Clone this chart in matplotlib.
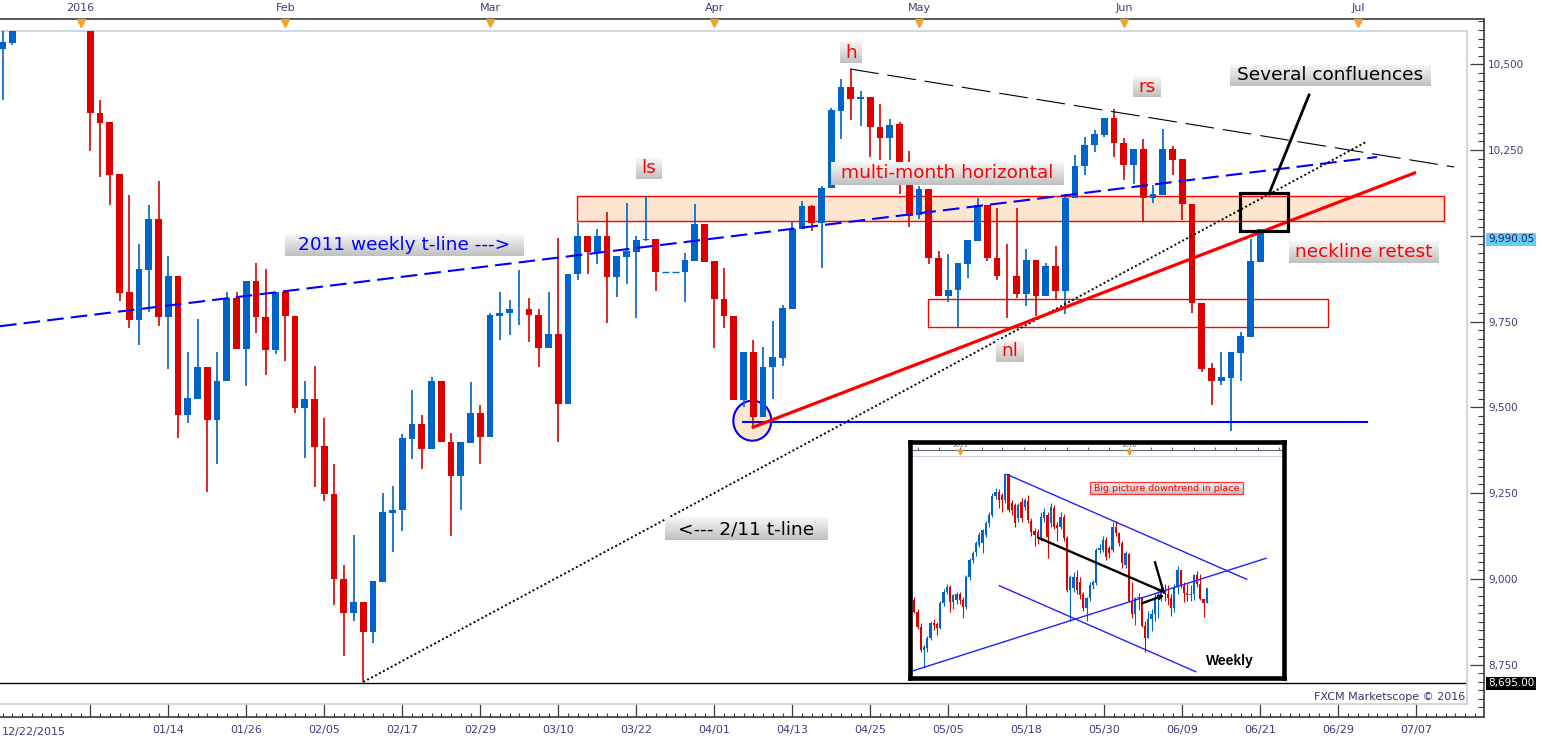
import numpy as np
import matplotlib
matplotlib.use("Agg")
import matplotlib.pyplot as plt
from matplotlib.patches import Rectangle, Ellipse
from matplotlib.colors import LinearSegmentedColormap

plt.rcParams['font.family'] = ['DejaVu Sans']

# ---------------- daily candles (bar index, 0 = 01/04/2016) ----------------
day_k = [-9, -8] + list(range(0, 121))
d_open = [10544, 10561,
    10740, 10358, 10331, 10179, 9835, 9754, 9900, 10048, 9763, 9884,
    9478, 9525, 9618, 9463, 9576, 9819, 9669, 9867, 9764, 9666,
    9835, 9766, 9499, 9524, 9387, 9247, 9000, 8899, 8931, 8844,
    8992, 9193, 9200, 9408, 9451, 9378, 9577, 9400, 9299, 9397,
    9484, 9412, 9766, 9774, 9787, 9788, 9770, 9674, 9715, 9510,
    9889, 9998, 9952, 9999, 9880, 9938, 9953, 9988, 9990, 9895,
    9895, 9895, 9927, 10035, 9926, 9817, 9766, 9521, 9662, 9471,
    9617, 9645, 9788, 10019, 10086, 10038, 10139, 10364, 10433, 10400,
    10405, 10318, 10285, 10325, 10210, 10061, 10136, 9936, 9825, 9842,
    9917, 9985, 10089, 9936, 9884, 9884, 9829, 9930, 9824, 9911,
    9838, 10109, 10204, 10265, 10294, 10344, 10272, 10207, 10254, 10109,
    10118, 10254, 10225, 10093, 9803, 9615, 9576, 9584, 9657, 9706,
    9925]
d_high = [10620, 10680,
    10750, 10397, 10331, 10179, 10119, 9975, 10090, 10160, 9941, 9884,
    9660, 9756, 9618, 9662, 9835, 9835, 9867, 9922, 9903, 9835,
    9842, 9766, 9577, 9621, 9468, 9336, 9040, 9128, 8931, 8993,
    9250, 9270, 9421, 9551, 9477, 9587, 9577, 9424, 9398, 9574,
    9507, 9775, 9835, 9813, 9899, 9819, 9788, 9837, 9993, 9890,
    10038, 9998, 10020, 10068, 9941, 10095, 10000, 10115, 9990, 9895,
    9895, 9951, 10093, 10035, 9926, 9905, 9766, 9662, 9697, 9677,
    9753, 9798, 10041, 10102, 10090, 10146, 10372, 10457, 10486, 10423,
    10405, 10383, 10341, 10331, 10247, 10146, 10136, 9957, 9948, 9920,
    9988, 10109, 10089, 10081, 9975, 10081, 9961, 9930, 9920, 9969,
    10121, 10235, 10288, 10309, 10344, 10370, 10284, 10254, 10281, 10148,
    10312, 10263, 10225, 10093, 9803, 9630, 9662, 9661, 9720, 9991,
    10020]
d_low = [10395, 10556,
    10248, 10170, 10090, 9810, 9731, 9683, 9778, 9736, 9613, 9411,
    9455, 9525, 9252, 9335, 9576, 9669, 9563, 9716, 9593, 9655,
    9636, 9484, 9352, 9267, 9226, 8924, 8775, 8877, 8698, 8813,
    8992, 9078, 9139, 9350, 9319, 9378, 9398, 9124, 9202, 9397,
    9335, 9412, 9695, 9710, 9741, 9689, 9618, 9674, 9399, 9510,
    9872, 9890, 9917, 9747, 9821, 9859, 9759, 9985, 9838, 9895,
    9895, 9806, 9927, 9924, 9674, 9731, 9521, 9502, 9445, 9471,
    9524, 9620, 9788, 10019, 10014, 9905, 10139, 10281, 10337, 10321,
    10230, 10220, 10220, 10121, 10025, 10049, 9917, 9825, 9806, 9735,
    9877, 9985, 9927, 9872, 9761, 9819, 9794, 9766, 9824, 9813,
    9772, 10109, 10177, 10244, 10288, 10230, 10164, 10152, 10040, 10096,
    10118, 10177, 10047, 9775, 9603, 9508, 9566, 9432, 9578, 9706,
    9925]
d_close = [10565, 10640,
    10358, 10328, 10176, 9833, 9754, 9903, 10048, 9763, 9884, 9478,
    9527, 9618, 9463, 9577, 9819, 9669, 9867, 9763, 9666, 9835,
    9766, 9499, 9524, 9384, 9247, 9000, 8899, 8931, 8844, 8993,
    9196, 9201, 9410, 9451, 9378, 9577, 9398, 9299, 9398, 9484,
    9412, 9768, 9775, 9788, 9788, 9768, 9674, 9715, 9510, 9890,
    9998, 9952, 9999, 9880, 9941, 9956, 9988, 9990, 9895, 9895,
    9895, 9929, 10035, 9924, 9815, 9766, 9521, 9662, 9471, 9618,
    9647, 9790, 10019, 10086, 10038, 10139, 10368, 10433, 10399, 10405,
    10317, 10285, 10322, 10210, 10059, 10136, 9936, 9825, 9842, 9920,
    9988, 10089, 9936, 9884, 9882, 9829, 9930, 9824, 9911, 9838,
    10109, 10204, 10265, 10296, 10344, 10272, 10207, 10254, 10109, 10123,
    10254, 10222, 10093, 9803, 9613, 9576, 9587, 9661, 9709, 9926,
    10020]

# x-axis labels (every 8 bars) and month markers
date_ticks = list(range(8, 137, 8))
date_labels = ['01/14', '01/26', '02/05', '02/17', '02/29', '03/10', '03/22', '04/01',
               '04/13', '04/25', '05/05', '05/18', '05/30', '06/09', '06/21', '06/29', '07/07']
month_k = [-1, 20, 41, 64, 85, 106, 130]
month_labels = ['2016', 'Feb', 'Mar', 'Apr', 'May', 'Jun', 'Jul']
price_ticks = [8750, 9000, 9250, 9500, 9750, 10250, 10500]
last_price = 9990.05
low_price = 8695.00

# ---------------- weekly candles for the inset (index 0 = late Sep 2014) ----------------
w_open = [9777, 9535, 9223, 8738, 8773, 8980, 9292, 9278, 9202, 9708,
          9951, 10055, 9743, 9777, 9895, 9777, 9639, 10262, 10609, 10782,
          10921, 10955, 11129, 11371, 11545, 11940, 12030, 11960, 11856, 12390,
          11787, 11752, 11475, 11822, 11718, 11836, 11420, 11212, 11198, 11094,
          11475, 11545, 11371, 11683, 11337, 11302, 11510, 11059, 9985, 10020,
          10262, 10159, 9895, 9604, 9812, 10089, 10124, 10817, 10817, 11025,
          10852, 10817, 11302, 11163, 10955, 10505,
          10740, 9754, 9478, 9819, 9835, 9247, 8992, 9378, 9484, 9788,
          9889, 9938, 9895, 9817, 9617, 10038, 10405, 10061, 9917, 9884,
          9911, 10294, 10109, 9803, 9706]
w_high = [9850, 9600, 9300, 8850, 9020, 9350, 9380, 9320, 9760, 10000,
          10100, 10090, 9900, 9950, 9950, 9850, 10300, 10650, 10800, 11000,
          11200, 11260, 11420, 11600, 12000, 12100, 12080, 12000, 12390, 12390,
          11850, 11800, 11800, 11900, 11900, 11950, 11480, 11280, 11250, 11600,
          11700, 11600, 11800, 11760, 11400, 11600, 11560, 11100, 10300, 10350,
          10400, 10250, 9950, 9850, 10150, 10200, 10850, 10950, 11100, 11080,
          10900, 11400, 11430, 11200, 11000, 10800,
          10750, 10160, 9835, 9922, 9842, 9336, 9551, 9587, 9899, 9993,
          10068, 10115, 10093, 9905, 10102, 10486, 10405, 10146, 10109, 10081,
          10309, 10370, 10312, 9803, 10020]
w_low = [9500, 9180, 8700, 8357, 8700, 8950, 9150, 9050, 9180, 9650,
         9900, 9535, 9600, 9700, 9700, 9396, 9600, 10200, 10550, 10700,
         10880, 10748, 11080, 11300, 11500, 11880, 11700, 11600, 11800, 11600,
         11550, 11300, 11400, 11400, 11650, 11380, 11100, 10900, 10950, 11000,
         11400, 10644, 11300, 11250, 11000, 11250, 11000, 9950, 9338, 9950,
         9900, 9800, 9550, 9340, 9750, 10000, 10080, 10750, 10780, 10600,
         10650, 10780, 11100, 10900, 10450, 10450,
         9731, 9411, 9252, 9563, 9226, 8698, 8992, 9124, 9335, 9399,
         9747, 9759, 9674, 9445, 9524, 9905, 10025, 9735, 9761, 9766,
         9772, 10040, 9775, 9432, 9706]
w_close = [9535, 9223, 8738, 8807, 8980, 9292, 9258, 9202, 9708, 9951,
           10055, 9743, 9881, 9895, 9777, 9639, 10262, 10609, 10748, 10955,
           11129, 11233, 11371, 11545, 11940, 12030, 11856, 11856, 12390, 11648,
           11648, 11371, 11752, 11475, 11856, 11441, 11198, 11129, 11059, 11510,
           11614, 11094, 11718, 11302, 11267, 11510, 11059, 9985, 10262, 10262,
           9985, 9881, 9604, 9812, 10089, 10159, 10817, 10852, 11025, 10678,
           10748, 11302, 11163, 10955, 10540, 10748,
           9754, 9478, 9819, 9835, 9247, 8993, 9378, 9484, 9788, 9890,
           9941, 9895, 9815, 9618, 10038, 10405, 10059, 9920, 9882, 9911,
           10296, 10109, 9803, 9709, 10020]

BLUE = '#0064C8'
RED = '#DC0000'

W, H = 1542, 743
fig = plt.figure(figsize=(W / 100, H / 100), dpi=100)
fig.patch.set_facecolor('white')

# pixel geometry of the reference
X0PX, BARPX = 90.3, 9.75
P0, P0PX, PXPT = 10500.0, 64.3, 0.343


def kx(px):
    return (px - X0PX) / BARPX


def pp(py):
    return P0 - (py - P0PX) / PXPT


def rect(x0, y0, x1, y1):
    return [x0 / W, (H - y1) / H, (x1 - x0) / W, (y1 - y0) / H]


AXC = '#3c3c3c'
LBL = '#3d3d85'

# ---------- frame axes (ticks, labels) ----------
axf = fig.add_axes(rect(0, 19, 1484, 717))
axf.set_xlim(kx(0), kx(1484))
axf.set_ylim(pp(717), pp(19))
axf.set_facecolor('white')
axf.spines['left'].set_visible(False)
for s in ['top', 'right', 'bottom']:
    axf.spines[s].set_color(AXC)
    axf.spines[s].set_linewidth(1.2)
axf.set_xticks([0] + date_ticks)
axf.set_xticklabels([''] + date_labels)
axf.set_xticks(np.arange(-9, 143), minor=True)
axf.tick_params(axis='x', which='major', direction='in', length=9.4, width=0.9,
                color=AXC, labelsize=8, labelcolor=LBL, pad=6)
axf.tick_params(axis='x', which='minor', direction='in', length=2.8, width=0.8, color=AXC)
axf.yaxis.tick_right()
axf.set_yticks(price_ticks + [10000])
axf.set_yticklabels([f'{v:,}' for v in price_ticks] + [''])
axf.set_yticks([v for v in np.arange(8625, 10626, 25) if v % 250 != 0], minor=True)
axf.tick_params(axis='y', which='major', direction='in', length=10, width=0.9,
                color=AXC, labelsize=7.5, labelcolor=LBL, pad=3)
axf.tick_params(axis='y', which='minor', direction='in', length=4, width=0.8, color=AXC)
axf.text(kx(2), pp(732), '12/22/2015', fontsize=8, color=LBL, ha='left', va='center', clip_on=False)
for k, m in zip(month_k, month_labels):
    axf.text(k, pp(8), m, fontsize=8, color=LBL, ha='center', va='center', clip_on=False)
    axf.plot([k], [pp(23)], marker='v', ms=6, color='#F2A22E', clip_on=False, zorder=5)
axf.text(kx(1488), last_price, f'{last_price:,.2f}', fontsize=7.5, color='#22225a', ha='left',
         va='center', clip_on=False,
         bbox=dict(boxstyle='square,pad=0.15', fc='#66CCF5', ec='none'))
axf.text(kx(1488), low_price, f'{low_price:,.2f}', fontsize=7.5, color='white', ha='left',
         va='center', clip_on=False,
         bbox=dict(boxstyle='square,pad=0.15', fc='black', ec='none'))

# ---------- data axes ----------
ax = fig.add_axes(rect(0, 31, 1467, 704))
ax.patch.set_alpha(0)
ax.set_xticks([])
ax.set_yticks([])
ax.spines['left'].set_visible(False)
for s in ['top', 'right', 'bottom']:
    ax.spines[s].set_color('#c3d1dc')
    ax.spines[s].set_linewidth(1.2)
XL = (kx(0), kx(1467))
YL = (pp(704), pp(31))


def draw_candles(axis, xs, o, h, l, c, width, wlw, z=3):
    xs = np.asarray(xs, float)
    o, h, l, c = (np.asarray(v, float) for v in (o, h, l, c))
    cols = np.where(c >= o, BLUE, RED)
    axis.vlines(xs, l, h, colors=cols, lw=wlw, zorder=z)
    bh = np.abs(c - o)
    nz = bh > 0
    axis.bar(xs[nz], bh[nz], width=width, bottom=np.minimum(o, c)[nz], color=cols[nz],
             linewidth=0, zorder=z + 0.1)
    fl = ~nz
    axis.hlines(o[fl], xs[fl] - width / 2, xs[fl] + width / 2, colors=cols[fl], lw=1.0, zorder=z + 0.1)


# zones
ax.add_patch(Rectangle((kx(577.3), pp(221)), kx(1444) - kx(577.3), pp(196) - pp(221),
                       fc='#FDE6D0', ec='#FF0000', lw=1.0, zorder=1))
ax.add_patch(Rectangle((kx(928.3), pp(326.5)), kx(1327.7) - kx(928.3), pp(298.5) - pp(326.5),
                       fc='none', ec='#FF0000', lw=1.0, zorder=1))
ax.add_patch(Ellipse((kx(752.3), pp(420.7)), 38 / BARPX, 40 / PXPT,
                     fc='#FDE6D0', ec='#0000FF', lw=1.5, zorder=1.5))

draw_candles(ax, day_k, d_open, d_high, d_low, d_close, 0.69, 1.2)

# low line
ax.axhline(low_price, color='black', lw=1.0, zorder=2)
# 2011 weekly t-line
ax.plot([kx(0), kx(1377)], [pp(326.2), pp(157)], color='#0000FF', lw=1.5,
        ls=(0, (8, 3.4)), zorder=5)
# 2/11 t-line
ax.plot([kx(363.3), kx(1366)], [pp(682), pp(142)], color='black', lw=1.4,
        ls=(0, (1.0, 1.3)), zorder=5)
# neckline
ax.plot([kx(751.7), kx(1416)], [pp(427.7), pp(172.4)], color='#FF0000', lw=2.3,
        solid_capstyle='butt', zorder=6)
# h down line
ax.plot([kx(850), kx(1454)], [pp(69), pp(167)], color='black', lw=0.8,
        ls=(0, (26, 8)), zorder=5)
# horizontal low support
ax.plot([kx(742.7), kx(1366.7)], [pp(421.5), pp(421.5)], color='#0000FF', lw=1.5, zorder=5)
# confluence box + pointer
ax.add_patch(Rectangle((kx(1240), pp(231)), kx(1288) - kx(1240), pp(193) - pp(231),
                       fc='none', ec='black', lw=2.3, zorder=7))
ax.plot([kx(1269), kx(1309)], [pp(194), pp(95)], color='black', lw=2.0, zorder=7)

grad = LinearSegmentedColormap.from_list('g', ['#f7f7f7', '#c0c0c0'])


def glabel(axis, tx, color, box, fs, fx, fy, edge=None, weight='normal', family=None):
    x0, y0, x1, y1 = box
    ext = [fx(x0), fx(x1), fy(y1), fy(y0)]
    axis.imshow(np.linspace(0, 1, 32).reshape(-1, 1), extent=ext, cmap=grad, aspect='auto',
                origin='upper', zorder=8, interpolation='bilinear')
    if edge:
        axis.add_patch(Rectangle((ext[0], ext[2]), ext[1] - ext[0], ext[3] - ext[2],
                                 fc='none', ec=edge, lw=0.9, zorder=8.5))
    kw = {}
    if family:
        kw['family'] = family
    axis.text((ext[0] + ext[1]) / 2, (ext[2] + ext[3]) / 2, tx, color=color, fontsize=fs,
              ha='center', va='center', zorder=9, fontweight=weight, **kw)


labels = [
    ("h", '#ff0000', (840, 42, 862, 63)),
    ("ls", '#ff0000', (636, 158, 662, 179)),
    ("rs", '#ff0000', (1133, 76, 1161, 97)),
    ("nl", '#ff0000', (996, 341, 1023, 362)),
    ("multi-month horizontal", '#ff0000', (831, 162, 1063, 185)),
    ("2011 weekly t-line --->", '#0000ff', (285, 234, 524, 256)),
    ("<--- 2/11 t-line", '#000000', (665, 518, 828, 540)),
    ("Several confluences", '#000000', (1230, 65, 1431, 86)),
    ("neckline retest", '#ff0000', (1289, 241, 1439, 263)),
]
for tx, col, box in labels:
    glabel(ax, tx, col, box, 13.3, kx, pp)

ax.text(kx(1465), pp(697), 'FXCM Marketscope \u00a9 2016', fontsize=8, color='#35356e',
        ha='right', va='center', zorder=9)
ax.set_xlim(*XL)
ax.set_ylim(*YL)

# ---------- inset (weekly) ----------
IX0, IXW = 914.33, 3.25
IP0, IPY0, IPX = 12390.0, 474.33, 20.79


def ij(px):
    return (px - IX0) / IXW


def ip(py):
    return IP0 - (py - IPY0) * IPX


axi = fig.add_axes(rect(910.3, 441.7, 1283.8, 678.2))
axi.set_facecolor('white')
axi.set_xticks([])
axi.set_yticks([])
for s in axi.spines.values():
    s.set_color('black')
    s.set_linewidth(3.3)
IXL = (ij(910.3), ij(1283.8))
IYL = (ip(678.2), ip(441.7))

axi.axhline(ip(450), color='#666677', lw=0.8, zorder=2)
axi.axhline(ip(455.5), color='#c8d4de', lw=0.8, zorder=2)
inset_ticks_px = [917.7, 939, 960, 981.7, 1002.3, 1024, 1045.3, 1066.7, 1088, 1109, 1129,
                  1150.7, 1171.7, 1193.7, 1215, 1236.3, 1257.7, 1279]
axi.vlines([ij(v) for v in inset_ticks_px], ip(450), ip(447), color='#666677', lw=0.7, zorder=2)
for lab, px in (('2015', 960), ('2016', 1129)):
    axi.text(ij(px), ip(446), lab, fontsize=4.5, color='#555580', ha='center', va='center', zorder=2)
    axi.plot([ij(px)], [ip(452)], marker='v', ms=3.5, color='#F2A22E', zorder=3)

wk = np.arange(len(w_open))
draw_candles(axi, wk, w_open, w_high, w_low, w_close, 0.7, 0.8)

axi.plot([ij(1006.7), ij(1246.7)], [ip(474.3), ip(579.3)], color='#2020ff', lw=1.0, zorder=5)
axi.plot([ij(999.3), ij(1195.7)], [ip(585.7), ip(671.7)], color='#2020ff', lw=1.0, zorder=5)
axi.plot([ij(913.3), ij(1266)], [ip(670.7), ip(558.3)], color='#2020ff', lw=1.0, zorder=5)
axi.plot([ij(1038.3), ij(1163.3)], [ip(537.7), ip(591.7)], color='black', lw=1.7, zorder=6)
axi.plot([ij(1155), ij(1163.3)], [ip(562.3), ip(591)], color='black', lw=1.7, zorder=6)
axi.annotate('', xy=(ij(1166.7), ip(594.3)), xytext=(ij(1139.3), ip(604.3)),
             arrowprops=dict(arrowstyle='-|>', color='black', lw=1.7, mutation_scale=6), zorder=6)

glabel(axi, 'Big picture downtrend in place', '#ff0000', (1090, 482, 1243, 494), 6.8, ij, ip,
       edge='#ff3333')
axi.text(ij(1229.5), ip(661.5), 'Weekly', fontsize=10, fontweight='bold', color='black',
         family=['Liberation Sans', 'DejaVu Sans'], ha='center', va='center', zorder=9)
axi.set_xlim(*IXL)
axi.set_ylim(*IYL)

fig.savefig('out.png', dpi=100)
